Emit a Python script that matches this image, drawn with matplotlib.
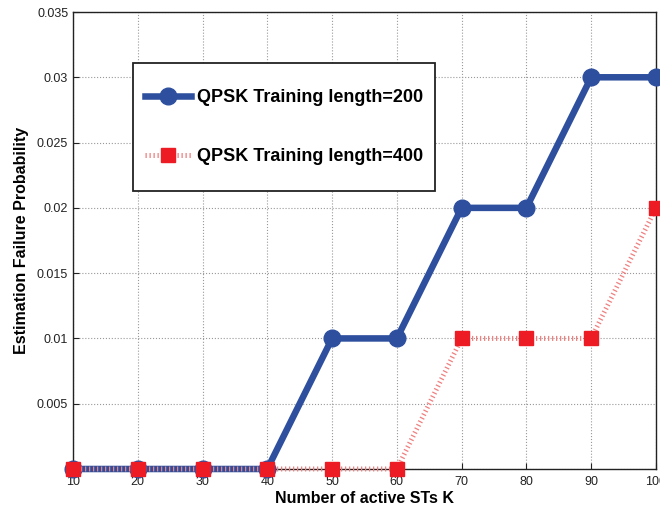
import matplotlib.pyplot as plt
from matplotlib.patches import Rectangle

plt.rcParams['font.family'] = ['Liberation Sans', 'DejaVu Sans']

# number of active STs
users = [10, 20, 30, 40, 50, 60, 70, 80, 90, 100]
# estimation failure probability
fail_200 = [0, 0, 0, 0, 0.01, 0.01, 0.02, 0.02, 0.03, 0.03]
fail_400 = [0, 0, 0, 0, 0, 0, 0.01, 0.01, 0.01, 0.02]

y_ticks = [0, 0.005, 0.01, 0.015, 0.02, 0.025, 0.03, 0.035]
y_labels = ['', '0.005', '0.01', '0.015', '0.02', '0.025', '0.03', '0.035']

fig = plt.figure(figsize=(6.6, 5.11), dpi=100)
ax = fig.add_axes([0.1106, 0.0822, 0.8833, 0.8943])

blue = '#2d4f9e'
red = '#ed1c24'

ax.plot(users, fail_200, color=blue, linewidth=4.7, marker='o', markersize=12,
        markerfacecolor=blue, markeredgecolor=blue, clip_on=False, zorder=3,
        label='QPSK Training length=200')
ax.plot(users, fail_400, color='#f07f7f', linewidth=3.6, linestyle=(0, (0.25, 0.55)),
        marker='s', markersize=10, markerfacecolor=red, markeredgecolor=red,
        clip_on=False, zorder=4, label='QPSK Training length=400')

ax.set_xlim(10, 100)
ax.set_ylim(0, 0.035)
ax.set_xticks(users)
ax.set_yticks(y_ticks)
ax.set_yticklabels(y_labels)
ax.tick_params(direction='in', labelsize=9, length=4, colors='#222222')
ax.tick_params(axis='x', pad=5)
ax.grid(True, linestyle=':', color='#999999', linewidth=0.8)
for s in ax.spines.values():
    s.set_linewidth(1.0)
    s.set_color('#222222')

ax.set_xlabel('Number of active STs K', fontsize=11.5, fontweight='bold', labelpad=2)
ax.set_ylabel('Estimation Failure Probability', fontsize=11.5, fontweight='bold', labelpad=6)

# legend box drawn by hand so it can be taller than wide padding allows
box = Rectangle((0.103, 0.608), 0.518, 0.280, transform=ax.transAxes,
                facecolor='white', edgecolor='#222222', linewidth=1.3, zorder=5)
ax.add_patch(box)
leg = ax.legend(loc='center', bbox_to_anchor=(0.362, 0.748), frameon=False,
                prop={'weight': 'bold', 'size': 13}, handlelength=2.55,
                labelspacing=2.35, borderpad=0, handletextpad=0.33,
                borderaxespad=0)
leg.set_zorder(6)

fig.savefig('out.png', dpi=100)
